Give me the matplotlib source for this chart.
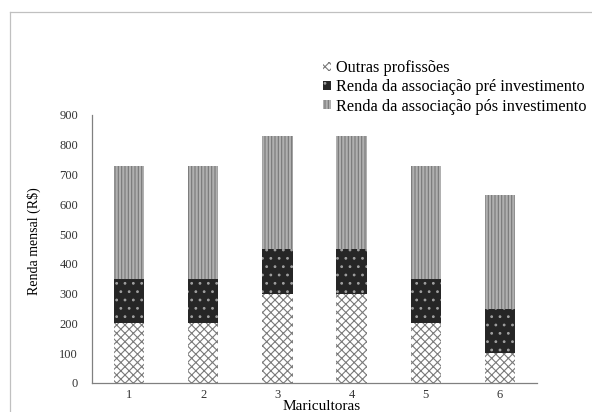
import numpy as np
import matplotlib
matplotlib.use('Agg')
import matplotlib.pyplot as plt
from matplotlib.lines import Line2D

plt.rcParams['font.family'] = ['Liberation Serif', 'DejaVu Serif']
plt.rcParams['hatch.linewidth'] = 0.8

maricultoras = ['1', '2', '3', '4', '5', '6']
outras = [200, 200, 300, 300, 200, 100]
pre_invest = [150, 150, 150, 150, 150, 150]
pos_invest = [380, 380, 380, 380, 380, 380]

fig = plt.figure(figsize=(5.92, 4.12), dpi=100)
ax = fig.add_axes([0.1554, 0.0704, 0.7517, 0.6505])

x = np.arange(len(maricultoras))
w = 0.41
b1 = ax.bar(x, outras, w, color='white', edgecolor='#7a7a7a', hatch='xxxx', linewidth=0,
            label='Outras profissões')
bottom2 = np.array(outras)
b2 = ax.bar(x, pre_invest, w, bottom=bottom2, color='#262626', edgecolor='#a0a0a0', hatch='..',
            linewidth=0, label='Renda da associação pré investimento')
bottom3 = bottom2 + np.array(pre_invest)
b3 = ax.bar(x, pos_invest, w, bottom=bottom3, color='#b0b0b0', edgecolor='#777777', hatch='|||||',
            linewidth=0, label='Renda da associação pós investimento')

ax.set_xlim(-0.5, len(maricultoras) - 0.5)
ax.set_ylim(0, 900)
ax.set_yticks(np.arange(0, 901, 100))
ax.set_xticks(x)
ax.set_xticklabels(maricultoras)
ax.tick_params(length=0, labelsize=9, colors='#333333')
ax.tick_params(axis='x', pad=4)
ax.tick_params(axis='y', pad=10)
for s in ['top', 'right']:
    ax.spines[s].set_visible(False)
for s in ['left', 'bottom']:
    ax.spines[s].set_color('#808080')
    ax.spines[s].set_linewidth(0.9)

ax.set_xlabel('Maricultoras', fontsize=11)
ax.xaxis.set_label_coords(0.515, -0.062)
ax.set_ylabel('Renda mensal (R$)', fontsize=10)
ax.yaxis.set_label_coords(-0.115, 0.53)

fig.legend(handles=[b1, b2, b3], loc='upper left', bbox_to_anchor=(0.535, 0.87),
           frameon=False, fontsize=11.7, handlelength=0.5, handleheight=0.5,
           handletextpad=0.3, labelspacing=0.2, borderaxespad=0)

# outer frame
fig.add_artist(Line2D([10 / 592, 10 / 592], [0, 1 - 12 / 412], color='#c0c0c0', lw=0.9,
                      transform=fig.transFigure))
fig.add_artist(Line2D([10 / 592, 1], [1 - 12 / 412, 1 - 12 / 412], color='#c0c0c0', lw=0.9,
                      transform=fig.transFigure))

fig.savefig('out.png', dpi=100)
